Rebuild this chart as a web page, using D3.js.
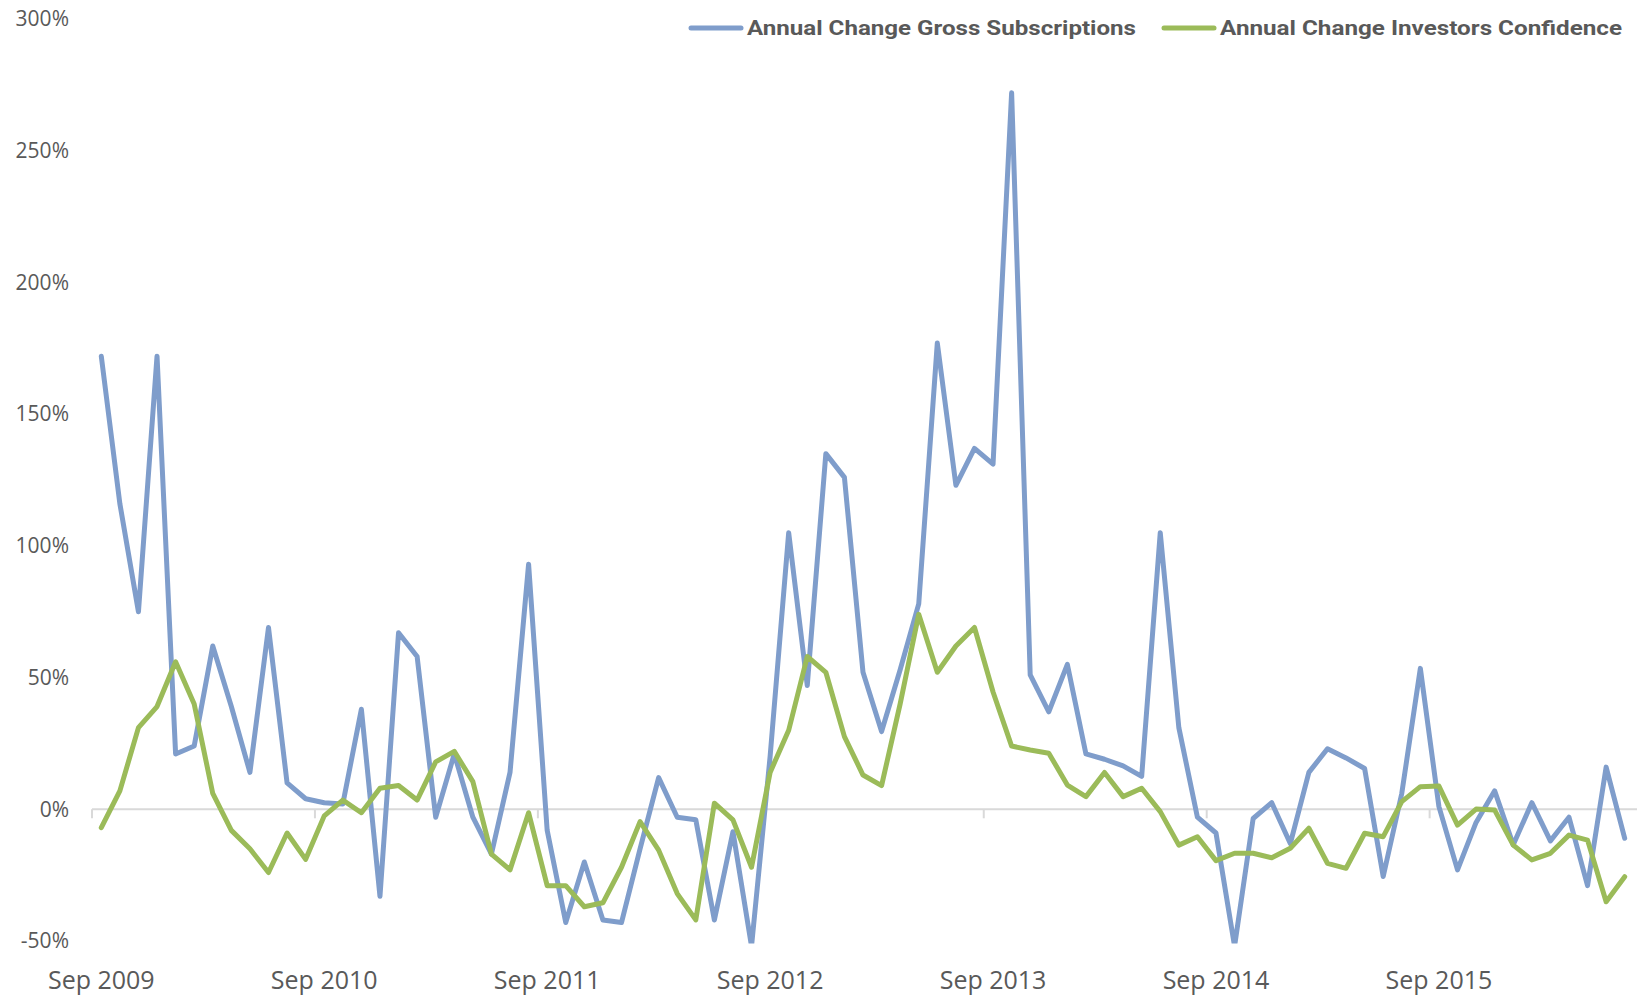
<!DOCTYPE html>
<html>
<head>
<meta charset="utf-8">
<script src="https://cdn.jsdelivr.net/npm/d3@7"></script>
<style>
  body { margin: 0; background: #fff; }
  text { font-family: 'Open Sans', sans-serif; fill: #595959; }
</style>
</head>
<body>
<script>
const width = 1637
const height = 996

// monthly categories, Sep 2009 .. Jul 2016
const months = d3.utcMonth.range(new Date(Date.UTC(2009, 8, 1)), new Date(Date.UTC(2016, 7, 1)))
const tickLabels = ['Sep 2009', 'Sep 2010', 'Sep 2011', 'Sep 2012', 'Sep 2013', 'Sep 2014', 'Sep 2015']
const yTicks = [-0.5, 0, 0.5, 1, 1.5, 2, 2.5, 3]
const seriesNames = ['Annual Change Gross Subscriptions', 'Annual Change Investors Confidence']

const subscriptions = [
  1.72, 1.16, 0.75, 1.72, 0.21, 0.24, 0.62, 0.39, 0.14, 0.69, 0.10, 0.04,
  0.025, 0.02, 0.38, -0.33, 0.67, 0.58, -0.03, 0.21, -0.03, -0.17, 0.14, 0.93,
  -0.08, -0.43, -0.20, -0.42, -0.43, -0.15, 0.12, -0.03, -0.04, -0.42, -0.085, -0.52,
  0.20, 1.05, 0.47, 1.35, 1.26, 0.52, 0.295, 0.53, 0.78, 1.77, 1.23, 1.37,
  1.31, 2.72, 0.51, 0.37, 0.55, 0.21, 0.19, 0.165, 0.125, 1.05, 0.31, -0.03,
  -0.09, -0.52, -0.035, 0.025, -0.13, 0.14, 0.23, 0.195, 0.155, -0.255, 0.06, 0.535,
  0.01, -0.23, -0.05, 0.07, -0.135, 0.025, -0.12, -0.03, -0.29, 0.16, -0.11
]

const confidence = [
  -0.07, 0.07, 0.31, 0.39, 0.56, 0.40, 0.06, -0.08, -0.15, -0.24, -0.09, -0.19,
  -0.025, 0.035, -0.013, 0.08, 0.09, 0.035, 0.18, 0.22, 0.105, -0.17, -0.23, -0.013,
  -0.29, -0.29, -0.37, -0.355, -0.22, -0.047, -0.155, -0.32, -0.42, 0.023, -0.04, -0.22,
  0.14, 0.30, 0.58, 0.52, 0.276, 0.13, 0.09, 0.40, 0.74, 0.52, 0.62, 0.69,
  0.445, 0.24, 0.225, 0.213, 0.092, 0.048, 0.14, 0.048, 0.08, -0.009, -0.136, -0.104,
  -0.195, -0.167, -0.167, -0.184, -0.148, -0.072, -0.205, -0.224, -0.091, -0.104, 0.029, 0.086,
  0.088, -0.06, 0.001, -0.003, -0.136, -0.192, -0.167, -0.098, -0.117, -0.351, -0.256
]

const colors = ['#7F9DCB', '#9BBB59']

const x = d3.scaleBand().domain(d3.range(months.length)).range([92, 1634]).paddingInner(0).paddingOuter(0)
const y = d3.scaleLinear().domain([-0.5, 3]).range([941, 19])
const fmtMonth = d3.utcFormat('%b %Y')

const svg = d3.select('body').append('svg').attr('width', width).attr('height', height)

svg.append('clipPath').attr('id', 'plot')
  .append('rect').attr('x', 80).attr('y', 0).attr('width', width - 80).attr('height', 943.5)

// y labels
svg.append('g')
  .attr('transform', 'translate(69,0)')
  .call(d3.axisLeft(y).tickValues(yTicks).tickSize(0).tickPadding(0).tickFormat(d => Math.round(d * 100) + '%'))
  .call(g => g.select('.domain').remove())
  .call(g => g.selectAll('text').style('font-size', '21px').style('fill', '#595959').style('font-family', "'Open Sans', sans-serif"))

// zero line + year ticks
svg.append('line')
  .attr('x1', x(0)).attr('x2', width)
  .attr('y1', y(0)).attr('y2', y(0))
  .style('stroke', '#D9D9D9').attr('stroke-width', 2)

const sepIdx = months.map((m, i) => i).filter(i => months[i].getUTCMonth() === 8)

svg.selectAll('line.tick-x')
  .data(sepIdx)
  .join('line')
  .attr('class', 'tick-x')
  .attr('x1', d => x(d)).attr('x2', d => x(d))
  .attr('y1', y(0)).attr('y2', y(0) + 9)
  .style('stroke', '#D9D9D9').attr('stroke-width', 2)

svg.selectAll('text.label-x')
  .data(sepIdx)
  .join('text')
  .attr('class', 'label-x')
  .attr('x', d => x(d) + x.bandwidth() / 2)
  .attr('y', 989)
  .style('text-anchor', 'middle')
  .style('font-size', '25px')
  .text((d, i) => tickLabels[i] || fmtMonth(months[d]))

// lines
const line = d3.line()
  .x((d, i) => x(i) + x.bandwidth() / 2)
  .y(d => y(d))

svg.append('g').attr('clip-path', 'url(#plot)')
  .selectAll('path')
  .data([subscriptions, confidence])
  .join('path')
  .attr('d', line)
  .style('fill', 'none')
  .style('stroke', (d, i) => colors[i])
  .attr('stroke-width', 5)
  .attr('stroke-linejoin', 'round')
  .attr('stroke-linecap', 'round')

// legend
const legendPos = [{ x: 689, w: 389 }, { x: 1162, w: 402 }]
const legend = svg.selectAll('g.legend')
  .data(seriesNames)
  .join('g')
  .attr('class', 'legend')
  .attr('transform', (d, i) => `translate(${[legendPos[i].x, 28]})`)

legend.append('line')
  .attr('x1', 2).attr('x2', 52)
  .style('stroke', (d, i) => colors[i])
  .attr('stroke-width', 5)
  .attr('stroke-linecap', 'round')

legend.append('text')
  .attr('x', 58)
  .attr('y', 0)
  .attr('dy', '0.35em')
  .attr('textLength', (d, i) => legendPos[i].w)
  .attr('lengthAdjust', 'spacingAndGlyphs')
  .style('font-family', 'Roboto, sans-serif')
  .style('font-size', '21px')
  .style('font-weight', 'bold')
  .text(d => d)
</script>
</body>
</html>
